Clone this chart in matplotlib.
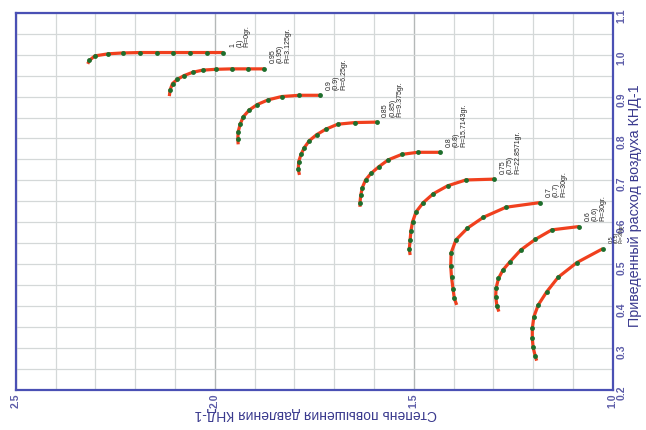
import matplotlib
matplotlib.use("Agg")
import matplotlib.pyplot as plt
from matplotlib.ticker import MultipleLocator, FixedLocator, FormatStrFormatter

plt.rcParams['font.family'] = ['Liberation Sans', 'DejaVu Sans']

# relative speed of each characteristic and guide vane angle
speeds = ["1", "0.95", "0.9", "0.85", "0.8", "0.75", "0.7", "0.6", "0.5"]
vane_fi = ["0", "3.125", "6.25", "9.375", "15.7143", "22.8571", "30", "30", "30"]

# pressure ratio (pi) and corrected air flow (g) along each line, from the surge end
pi_100 = [1.978, 2.020, 2.062, 2.104, 2.146, 2.188, 2.230, 2.267, 2.301, 2.315, 2.319]
g_100 = [1.005, 1.005, 1.005, 1.005, 1.005, 1.005, 1.004, 1.002, 0.997, 0.986, 0.978]

pi_95 = [1.876, 1.917, 1.957, 1.997, 2.030, 2.055, 2.077, 2.094, 2.106, 2.112, 2.114]
g_95 = [0.966, 0.966, 0.966, 0.965, 0.963, 0.958, 0.950, 0.941, 0.931, 0.916, 0.901]

pi_90 = [1.735, 1.787, 1.832, 1.866, 1.893, 1.913, 1.928, 1.936, 1.941, 1.942, 1.941]
g_90 = [0.903, 0.903, 0.900, 0.892, 0.881, 0.868, 0.852, 0.834, 0.816, 0.799, 0.786]

pi_85 = [1.593, 1.647, 1.691, 1.721, 1.744, 1.762, 1.775, 1.783, 1.789, 1.790, 1.787]
g_85 = [0.839, 0.838, 0.834, 0.822, 0.809, 0.795, 0.778, 0.762, 0.745, 0.726, 0.713]

pi_80 = [1.434, 1.490, 1.530, 1.564, 1.587, 1.607, 1.621, 1.629, 1.633, 1.635, 1.635]
g_80 = [0.767, 0.767, 0.762, 0.749, 0.733, 0.717, 0.701, 0.683, 0.665, 0.647, 0.637]

pi_75 = [1.298, 1.369, 1.415, 1.451, 1.476, 1.494, 1.503, 1.507, 1.509, 1.511, 1.509]
g_75 = [0.703, 0.701, 0.687, 0.668, 0.647, 0.625, 0.601, 0.579, 0.558, 0.536, 0.522]

pi_70 = [1.183, 1.268, 1.325, 1.365, 1.394, 1.406, 1.407, 1.405, 1.401, 1.398, 1.392]
g_70 = [0.647, 0.636, 0.612, 0.586, 0.558, 0.527, 0.496, 0.469, 0.440, 0.419, 0.403]

pi_60 = [1.084, 1.153, 1.195, 1.231, 1.258, 1.276, 1.287, 1.293, 1.294, 1.291, 1.286]
g_60 = [0.590, 0.582, 0.559, 0.534, 0.506, 0.486, 0.466, 0.443, 0.423, 0.401, 0.387]

pi_50 = [1.025, 1.090, 1.137, 1.166, 1.187, 1.198, 1.202, 1.202, 1.200, 1.195, 1.191]
g_50 = [0.537, 0.504, 0.469, 0.434, 0.403, 0.375, 0.347, 0.323, 0.302, 0.282, 0.270]

pi_lines = [pi_100, pi_95, pi_90, pi_85, pi_80, pi_75, pi_70, pi_60, pi_50]
g_lines = [g_100, g_95, g_90, g_85, g_80, g_75, g_70, g_60, g_50]

axis_blue = '#4a50b4'
tick_blue = '#5c5ca8'
label_blue = '#3a3a8e'

fig = plt.figure(figsize=(6.46, 4.30), dpi=100)
# the map is drawn turned on its side: pi runs right-to-left along the bottom,
# corrected flow runs upward along the right edge
ax = fig.add_axes([15.7 / 646, 1 - 390 / 430, 597 / 646, 377.3 / 430])

for pi, g, n, fi in zip(pi_lines, g_lines, speeds, vane_fi):
	ax.plot(pi, g, color='#f0401e', lw=2.3, solid_capstyle='butt', zorder=3,
		marker='o', ms=3.5, mfc='#1e6e2c', mec='#1e6e2c', mew=0,
		markevery=slice(0, len(pi) - 1))
	# the last label sits against the frame, so it is set a bit smaller
	fs = 4 if n == "0.5" else 5
	ax.annotate('%s\n(%s)\nFi=%sgr.' % (n, n, fi), xy=(pi[0], g[0]),
		xytext=(4, 4), textcoords='offset points', rotation=90,
		ha='left', va='bottom', fontsize=fs, color='#222222',
		linespacing=1.05, annotation_clip=False, zorder=4)

ax.set_xlim(2.5, 1.0)
ax.set_ylim(0.2, 1.1)

ax.xaxis.set_major_locator(FixedLocator([2.5, 2.0, 1.5, 1.0]))
ax.xaxis.set_minor_locator(MultipleLocator(0.1))
ax.xaxis.set_major_formatter(FormatStrFormatter('%.1f'))
ax.yaxis.set_major_locator(MultipleLocator(0.1))
ax.yaxis.set_minor_locator(MultipleLocator(0.05))
ax.yaxis.set_major_formatter(FormatStrFormatter('%.1f'))

ax.yaxis.tick_right()
ax.tick_params(axis='both', which='both', length=0, colors=tick_blue,
	labelsize=7.5)
ax.tick_params(axis='x', pad=2.5, labelrotation=90)
ax.tick_params(axis='y', pad=3, labelrotation=90)
for lab in ax.get_xticklabels() + ax.get_yticklabels():
	lab.set_fontweight('bold')

ax.grid(which='minor', color='#d4d8d8', lw=0.9)
ax.grid(which='major', axis='y', color='#d4d8d8', lw=0.9)
ax.grid(which='major', axis='x', color='#b4b8b8', lw=1.0)
ax.set_axisbelow(True)

for sp in ax.spines.values():
	sp.set_color(axis_blue)
	sp.set_linewidth(1.6)

fig.text(316 / 646, 1 - 414 / 430, u'Степень повышения давления КНД-1',
	rotation=180, ha='center', va='center', fontsize=10, color=label_blue)
fig.text(635 / 646, 1 - 206 / 430, u'Приведенный расход воздуха КНД-1',
	rotation=90, ha='center', va='center', fontsize=10.3, color=label_blue)

fig.savefig('out.png', dpi=100)
